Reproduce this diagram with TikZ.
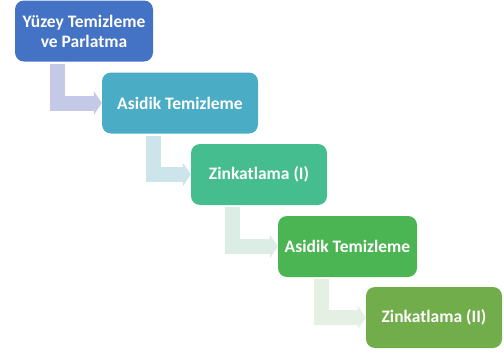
\documentclass[tikz,border=0pt]{standalone}
\usepackage{fontspec}
\setmainfont{Carlito}
\usetikzlibrary{arrows.meta}

\definecolor{boxA}{HTML}{4472C4}
\definecolor{boxB}{HTML}{4AACC5}
\definecolor{boxC}{HTML}{46BD8F}
\definecolor{boxD}{HTML}{4BB553}
\definecolor{boxE}{HTML}{71AD4B}
\definecolor{bendA}{HTML}{C3C9E6}
\definecolor{bendB}{HTML}{CCE5EA}
\definecolor{bendC}{HTML}{DBEDE5}
\definecolor{bendD}{HTML}{E4F0E4}

\begin{document}
\begin{tikzpicture}[x=1pt,y=1pt,
    stepbox/.style={rounded corners=9pt, text=white, align=center, inner sep=0pt,
        minimum height=61pt, font=\fontsize{17.5}{20}\selectfont\bfseries},
    bendarrow/.style={line width=15pt, line join=miter,
        -{Triangle[length=8pt,width=24pt,line width=0pt]}}]

    \useasboundingbox (0,0) rectangle (504,-356);

    % steps
    \node[stepbox, fill=boxA, minimum width=138pt] (s1) at (84,-31) {Yüzey Temizleme\\ve Parlatma};
    \node[stepbox, fill=boxB, minimum width=156pt] (s2) at (180,-103) {Asidik Temizleme};
    \node[stepbox, fill=boxC, minimum width=136pt] (s3) at (259,-174.5) {Zinkatlama (I)};
    \node[stepbox, fill=boxD, minimum width=139pt] (s4) at (347.5,-246.5) {Asidik Temizleme};
    \node[stepbox, fill=boxE, minimum width=136pt] (s5) at (434,-317.5) {Zinkatlama (II)};

    % bent arrows
    \draw[bendarrow, bendA] ([xshift=-26.5pt,yshift=-2pt]s1.south) |- (s2.west);
    \draw[bendarrow, bendB] ([xshift=-26.5pt,yshift=-2pt]s2.south) |- (s3.west);
    \draw[bendarrow, bendC] ([xshift=-26.5pt,yshift=-2pt]s3.south) |- (s4.west);
    \draw[bendarrow, bendD] ([xshift=-26.5pt,yshift=-2pt]s4.south) |- (s5.west);

\end{tikzpicture}
\end{document}
